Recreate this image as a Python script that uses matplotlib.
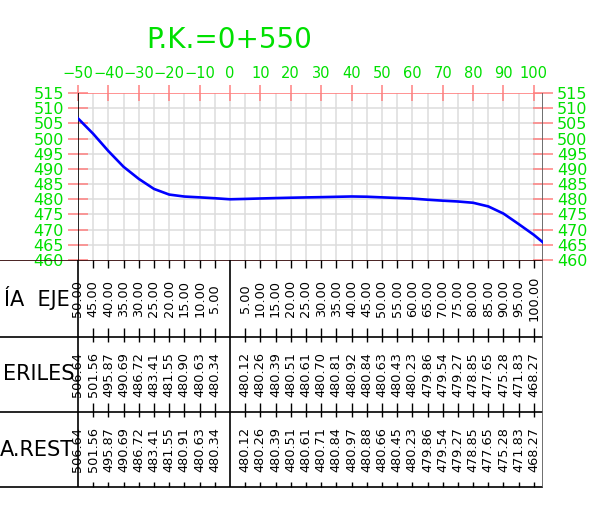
import numpy as np
import matplotlib
matplotlib.use("Agg")
import matplotlib.pyplot as plt

W, H = 608, 509
VERDE = "#00e000"
ROJO = "#ff8080"
GRIS = "#dcdcdc"

titulo = "P.K.=0+550"

estaciones = [-50, -45, -40, -35, -30, -25, -20, -15, -10, -5,
              5, 10, 15, 20, 25, 30, 35, 40, 45, 50,
              55, 60, 65, 70, 75, 80, 85, 90, 95, 100]
cota_materiales = [506.64, 501.56, 495.87, 490.69, 486.72, 483.41, 481.55, 480.90, 480.63, 480.34,
                   480.12, 480.26, 480.39, 480.51, 480.61, 480.70, 480.81, 480.92, 480.84, 480.63,
                   480.43, 480.23, 479.86, 479.54, 479.27, 478.85, 477.65, 475.28, 471.83, 468.27]
cota_rest = [506.64, 501.56, 495.87, 490.69, 486.72, 483.41, 481.55, 480.91, 480.63, 480.34,
             480.12, 480.26, 480.39, 480.51, 480.61, 480.71, 480.84, 480.97, 480.88, 480.66,
             480.45, 480.23, 479.86, 479.54, 479.27, 478.85, 477.65, 475.28, 471.83, 468.27]
# puntos extra del terreno (eje y extremo derecho)
cota_eje = 480.0
x_final, cota_final = 103, 465.8

# solo se ve el final de cada rotulo (cortado por el borde)
etiquetas_filas = ["ÍA  EJE", "ERILES", "A.REST"]

x_min, x_max = -50, 103
y_min, y_max = 460, 515

fig = plt.figure(figsize=(W / 100, H / 100), dpi=100)

# --- perfil ---
ax = fig.add_axes([78 / W, (H - 260) / H, 465 / W, 167 / H])
ax.set_xlim(x_min, x_max)
ax.set_ylim(y_min, y_max)
for s in ax.spines.values():
    s.set_visible(False)

ax.vlines(np.arange(-45, 101, 5), y_min, y_max, color=GRIS, lw=1.1, zorder=0)
ax.hlines(np.arange(465, 515, 5), x_min, x_max, color=GRIS, lw=1.1, zorder=0)
ax.axhline(515, color=ROJO, lw=1.2, zorder=1)
ax.plot([x_min, x_min], [y_min, y_max], color="black", lw=1.2, zorder=3)
ax.plot([x_max, x_max], [y_min, y_max], color="#606060", lw=2, zorder=3)

px = estaciones[:10] + [0] + estaciones[10:] + [x_final]
pz = cota_materiales[:10] + [cota_eje] + cota_materiales[10:] + [cota_final]
ax.plot(px, pz, color="#0000ff", lw=1.9, zorder=4, solid_joinstyle="round")

ax.set_xticks(np.arange(-50, 101, 10))
ax.xaxis.tick_top()
ax.tick_params(axis="x", direction="inout", length=11, width=1.1, color=ROJO,
               labelcolor=VERDE, labelsize=10.5, pad=3)
ax.set_yticks(np.arange(460, 516, 5))
ax.tick_params(axis="y", left=True, right=True, labelleft=True, labelright=True,
               direction="inout", length=14, width=1.1, color=ROJO,
               labelcolor=VERDE, labelsize=11.5, pad=3)

fig.text(229 / W, 1 - 40 / H, titulo, color=VERDE, fontsize=20,
         ha="center", va="center")

# --- guitarra (tabla inferior) ---
k = 465 / (x_max - x_min)
x0 = x_min - 78 / k
band = fig.add_axes([0, (H - 488) / H, 543 / W, 228 / H])
band.set_xlim(x0, x_max)
band.set_ylim(228, 0)
band.axis("off")

filas = [0, 77, 152, 227]
band.hlines(filas[1:], x0, x_max, color="black", lw=1.2)
band.hlines(filas[0], x0, x_max, color="#3a1010", lw=1.3)
band.vlines([x_min, 0], 0, 227, color="black", lw=1.2)
band.vlines([x_max], 0, 227, color="#606060", lw=2)

marcas = [e for e in estaciones if e != x_min]
band.vlines(marcas, 0, 8, color="black", lw=1)
band.vlines(marcas, 68, 82, color="black", lw=1)
band.vlines(marcas, 143, 157, color="black", lw=1)
band.vlines(marcas, 222, 227, color="black", lw=1)

centros = [38.5, 114.5, 189.5]
for e, cm, cr in zip(estaciones, cota_materiales, cota_rest):
    band.text(e, centros[0], f"{abs(e):.2f}", rotation=90, ha="center", va="center", fontsize=9.3)
    band.text(e, centros[1], f"{cm:.2f}", rotation=90, ha="center", va="center", fontsize=9.3)
    band.text(e, centros[2], f"{cr:.2f}", rotation=90, ha="center", va="center", fontsize=9.3)

for et, c, borde in zip(etiquetas_filas, centros, [70, 74, 74]):
    band.text(x0 + borde / k, c, et, ha="right", va="center", fontsize=15)

fig.savefig("out.png", dpi=100)
